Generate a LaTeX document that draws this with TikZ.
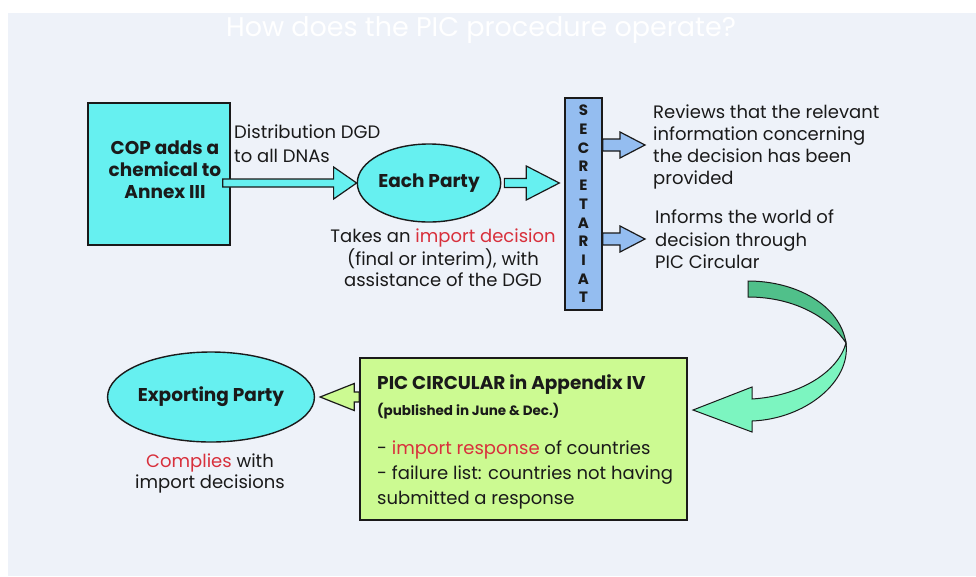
\documentclass[tikz,border=0pt]{standalone}
\usepackage{fontspec}
\setmainfont{Poppins}
\usetikzlibrary{calc,shapes.geometric}
\definecolor{bg}{HTML}{EEF2F9}
\definecolor{cyanf}{HTML}{66F0F0}
\definecolor{bluef}{HTML}{94BDF0}
\definecolor{greenf}{HTML}{CCFA92}
\definecolor{ribdark}{HTML}{50C08A}
\definecolor{riblight}{HTML}{7CF5C0}
\definecolor{redt}{HTML}{D8303C}
\definecolor{ink}{HTML}{1A1A1A}
\newcommand\rblock[6]{% style, start, tip, shaft half, head half, head length
  \draw[#1] let \p1=(#2), \p2=(#3) in
   (\x1,\y1+#4pt) -- (\x2-#6pt,\y1+#4pt) -- (\x2-#6pt,\y1+#5pt) -- (\x2,\y1)
   -- (\x2-#6pt,\y1-#5pt) -- (\x2-#6pt,\y1-#4pt) -- (\x1,\y1-#4pt) -- cycle;}
\newcommand\lblock[6]{% style, start, tip, shaft half, head half, head length
  \draw[#1] let \p1=(#2), \p2=(#3) in
   (\x1,\y1+#4pt) -- (\x2+#6pt,\y1+#4pt) -- (\x2+#6pt,\y1+#5pt) -- (\x2,\y1)
   -- (\x2+#6pt,\y1-#5pt) -- (\x2+#6pt,\y1-#4pt) -- (\x1,\y1-#4pt) -- cycle;}
\newcommand\rd[1]{\textcolor{redt}{#1}}
\tikzset{
  outl/.style={draw=ink, line width=1.4pt},
  txt/.style={text=ink, inner sep=0pt, font=\fontsize{18}{22}\selectfont},
  btxt/.style={text=ink, inner sep=0pt, font=\fontsize{18.5}{22}\selectfont\bfseries},
  cbox/.style={outl, fill=cyanf, rectangle, inner sep=0pt},
  cell/.style={outl, fill=cyanf, ellipse, inner sep=0pt},
  barrow/.style={draw=ink, line width=1.2pt, line join=miter},
}
\begin{document}
\begin{tikzpicture}[x=1pt,y=-1pt]
\useasboundingbox (0,0) rectangle (976,576);
\fill[white] (0,0) rectangle (976,576);
\fill[bg] (8,13) rectangle (976,576);
\node[font=\fontsize{27}{30}\selectfont, text=white, inner sep=0pt] (title) at (481,30) {How does the PIC procedure operate?};

% nodes
\node[cbox, minimum width=142pt, minimum height=142pt,
      label={[btxt, align=center, xshift=6pt, yshift=4pt]center:{COP adds a\\chemical to\\Annex III}}] (cop) at (159,174) {};
\node[cell, minimum width=118pt, minimum height=78pt, text=ink,
      font=\fontsize{18.5}{22}\selectfont\bfseries] (party) at (429,183) {Each Party};
\node[outl, fill=bluef, rectangle, minimum width=37pt, minimum height=212pt, inner sep=0pt,
      align=center, text=ink, font=\fontsize{15}{18.7}\selectfont\bfseries] (sec) at (583.5,204)
      {S\\E\\C\\R\\E\\T\\A\\R\\I\\A\\T};
\node[cell, minimum width=164pt, minimum height=90pt, text=ink,
      font=\fontsize{18.5}{22}\selectfont\bfseries] (exp) at (211,397) {Exporting Party};
\node[outl, fill=greenf, rectangle, minimum width=327pt, minimum height=162pt, inner sep=0pt] (circ) at (523.5,439) {};

% texts
\node[txt, anchor=north west, align=left, font=\fontsize{18}{24}\selectfont] (dist) at (234,125) {Distribution DGD\\to all DNAs};
\node[txt, anchor=north, align=center, font=\fontsize{18}{21}\selectfont] (takes) at (443,229) {Takes an \rd{import decision}\\(final or interim), with\\assistance of the DGD};
\node[txt, anchor=north west, align=left] (rev) at (653,105) {Reviews that the relevant\\information concerning\\the decision has been\\provided};
\node[txt, anchor=north west, align=left, font=\fontsize{18}{22.5}\selectfont] (inf) at (655,210) {Informs the world of\\decision through\\PIC Circular};
\node[txt, anchor=north, align=center, font=\fontsize{18}{21}\selectfont] (comp) at (210,454) {\rd{Complies} with\\import decisions};
\node[btxt, anchor=base west] (c1) at (377,389) {PIC CIRCULAR in Appendix IV};
\node[btxt, anchor=base west, font=\fontsize{13.5}{16}\selectfont\bfseries] (c2) at (377,415) {(published in June \& Dec.)};
\node[txt, anchor=base west] (c3) at (377,454) {- \rd{import response} of countries};
\node[txt, anchor=base west] (c4) at (377,479) {- failure list: countries not having};
\node[txt, anchor=base west] (c5) at (377,504) {submitted a response};

% block arrows
\coordinate (a1s) at ([xshift=-8pt]cop.east |- party.center);
\coordinate (a1t) at (party.west);
\rblock{barrow, fill=cyanf}{a1s}{a1t}{4}{16}{23}
\coordinate (a2s) at ([xshift=3pt]party.east);
\coordinate (a2t) at ([xshift=-5pt]sec.west |- party.center);
\rblock{barrow, fill=cyanf}{a2s}{a2t}{4.5}{17}{33}
\coordinate (a3s) at (sec.east |- 0,145);
\coordinate (a3t) at ([xshift=-8pt]rev.west |- 0,145);
\rblock{barrow, fill=bluef}{a3s}{a3t}{6}{13}{25}
\coordinate (a4s) at (sec.east |- 0,239);
\coordinate (a4t) at ([xshift=-10pt]inf.west |- 0,239);
\rblock{barrow, fill=bluef}{a4s}{a4t}{6}{13}{25}
\coordinate (a5s) at (circ.west |- exp.center);
\coordinate (a5t) at ([xshift=5pt]exp.east);
\lblock{barrow, fill=greenf}{a5s}{a5t}{5}{13.5}{34}

% curved ribbon arrow
\draw[barrow, line width=1pt, fill=ribdark] (748,281) .. controls (796,281) and (840,305) .. (846,343)
   .. controls (830,318) and (795,297) .. (748,297) -- cycle;
\draw[barrow, line width=1pt, fill=riblight] (846,343) .. controls (851,382) and (805,419) .. (752,421)
   -- (752,432) -- (693,410) -- (752,387) -- (752,399)
   .. controls (800,396) and (838,372) .. (846,343) -- cycle;
\end{tikzpicture}
\end{document}
